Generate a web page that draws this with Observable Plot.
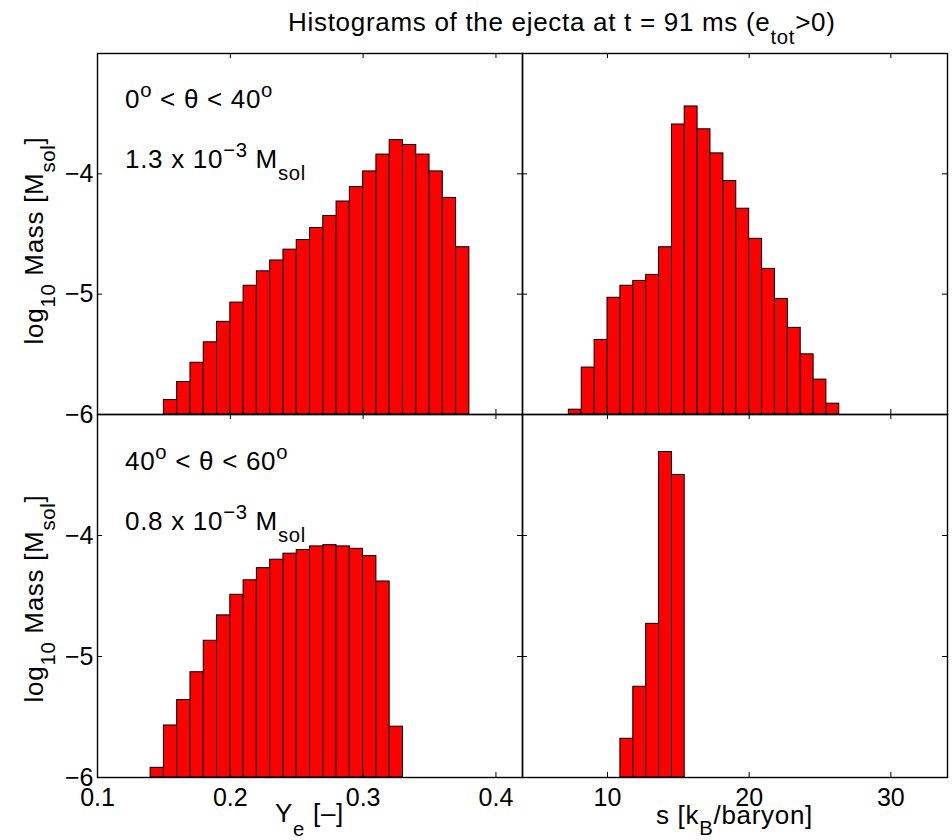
<!DOCTYPE html>
<html><head><meta charset="utf-8">
<script src="https://cdn.jsdelivr.net/npm/d3@7"></script>
<script src="https://cdn.jsdelivr.net/npm/@observablehq/plot@0.6"></script>
<style>
body{margin:0;background:#fff;}
#chart{position:relative;width:952px;height:840px;background:#fff;font-family:"Liberation Sans",Arial,Helvetica,sans-serif;}
#chart svg{position:absolute;overflow:visible;}
</style></head><body><div id="chart"></div>
<script>
// ---------- data ----------
const yeEdgesTop = [0.15,0.16,0.17,0.18,0.19,0.20,0.21,0.22,0.23,0.24,0.25,0.26,0.27,0.28,0.29,0.30,0.31,0.32,0.33,0.34,0.35,0.36,0.37,0.38];
const massYeTop = [-5.88,-5.73,-5.57,-5.40,-5.23,-5.07,-4.93,-4.81,-4.72,-4.63,-4.55,-4.45,-4.35,-4.23,-4.11,-3.98,-3.84,-3.72,-3.76,-3.84,-3.98,-4.20,-4.61];
const sEdgesTop = [7.27,8.18,9.09,10.00,10.91,11.82,12.73,13.64,14.55,15.45,16.36,17.27,18.18,19.09,20.00,20.91,21.82,22.73,23.64,24.55,25.45,26.36];
const massSTop = [-5.96,-5.61,-5.38,-5.03,-4.93,-4.89,-4.84,-4.61,-3.59,-3.44,-3.63,-3.83,-4.06,-4.29,-4.54,-4.79,-5.04,-5.28,-5.50,-5.71,-5.91];
const yeEdgesBottom = [0.14,0.15,0.16,0.17,0.18,0.19,0.20,0.21,0.22,0.23,0.24,0.25,0.26,0.27,0.28,0.29,0.30,0.31,0.32,0.33];
const massYeBottom = [-5.92,-5.57,-5.36,-5.13,-4.87,-4.66,-4.49,-4.37,-4.27,-4.20,-4.15,-4.12,-4.09,-4.08,-4.09,-4.11,-4.17,-4.38,-5.58];
const sEdgesBottom = [10.91,11.82,12.73,13.64,14.55,15.45];
const massSBottom = [-5.68,-5.25,-4.73,-3.31,-3.50];

const yeDomain = [0.1, 0.42];
const sDomain = [4, 34];
const massDomain = [-6, -3];
const massTicks = [-6, -5, -4];
const yeTicks = [0.1, 0.2, 0.3, 0.4];
const sTicks = [10, 20, 30];
const rowLabels = [["0","40"],["40","60"]];
const rowMass = ["1.3","0.8"];

// ---------- layout ----------
const FONT = 25;
const TEXTFONT = 26;
const L = 97, MID = 522, R = 947, TOP = 53, ROW = 414, BOT = 777;
const TICK = 5;
const root = d3.select("#chart");

function bins(edges, vals) {
  return vals.map((m, i) => ({x1: edges[i], x2: edges[i + 1], m}));
}
const fmtMass = d => (d < 0 ? "\u2212" + Math.abs(d) : String(d));

function panel({data, xDomain, xTicks, showX, showY, left, top, width, height, mLeft}) {
  const innerW = width - mLeft, innerH = height;
  const marks = [
    Plot.rectY(data, {x1: "x1", x2: "x2", y1: massDomain[0], y2: "m", fill: "#ff0000", stroke: "#000", strokeWidth: 1}),
    Plot.tickY(massTicks, {y: d => d, insetRight: innerW - TICK, stroke: "#000", strokeWidth: 1}),
    Plot.tickY(massTicks, {y: d => d, insetLeft: innerW - TICK, stroke: "#000", strokeWidth: 1}),
    Plot.tickX(xTicks, {x: d => d, insetBottom: innerH - TICK, stroke: "#000", strokeWidth: 1}),
    Plot.tickX(xTicks, {x: d => d, insetTop: innerH - TICK, stroke: "#000", strokeWidth: 1}),
    Plot.frame({stroke: "#000", strokeWidth: 1.4})
  ];
  if (showY) marks.push(Plot.axisY(massTicks, {anchor: "left", tickSize: 0, tickPadding: 4, tickFormat: fmtMass, fontSize: FONT, label: null}));
  if (showX) marks.push(Plot.axisX(xTicks, {anchor: "bottom", tickSize: 0, tickPadding: 11, tickFormat: d => String(d), fontSize: FONT, label: null}));
  const svg = Plot.plot({
    width, height, marginLeft: mLeft, marginRight: 0, marginTop: 0, marginBottom: 0,
    x: {domain: xDomain, label: null, axis: showX ? undefined : null},
    y: {domain: massDomain, label: null, axis: showY ? undefined : null},
    style: {background: "transparent", overflow: "visible", fontFamily: "'Liberation Sans', Arial, Helvetica, sans-serif", fontSize: FONT + "px", color: "#000"},
    marks
  });
  svg.style.left = left + "px";
  svg.style.top = top + "px";
  root.node().appendChild(svg);
}

panel({data: bins(yeEdgesTop, massYeTop), xDomain: yeDomain, xTicks: yeTicks, showX: false, showY: true, left: 0, top: TOP, width: MID, height: ROW - TOP, mLeft: L});
panel({data: bins(sEdgesTop, massSTop), xDomain: sDomain, xTicks: sTicks, showX: false, showY: false, left: MID, top: TOP, width: R - MID, height: ROW - TOP, mLeft: 0});
panel({data: bins(yeEdgesBottom, massYeBottom), xDomain: yeDomain, xTicks: yeTicks, showX: true, showY: true, left: 0, top: ROW, width: MID, height: BOT - ROW, mLeft: L});
panel({data: bins(sEdgesBottom, massSBottom), xDomain: sDomain, xTicks: sTicks, showX: true, showY: false, left: MID, top: ROW, width: R - MID, height: BOT - ROW, mLeft: 0});

// ---------- text overlay ----------
const ov = root.append("svg").attr("width", 952).attr("height", 840).style("left", "0px").style("top", "0px").style("pointer-events", "none")
  .attr("font-family", "'Liberation Sans', Arial, Helvetica, sans-serif");

function rich(x, y, parts, {size = TEXTFONT, anchor = "start", rotate = 0, sub = 0.46, sup = 0.44, spacing = 0.7} = {}) {
  const t = ov.append("text").attr("x", x).attr("y", y).attr("font-size", size).attr("text-anchor", anchor)
    .attr("fill", "#000").style("letter-spacing", spacing + "px");
  if (rotate) t.attr("transform", `rotate(${rotate},${x},${y})`);
  let shift = 0;
  for (const [s, kind] of parts) {
    const fs = kind ? size * 0.78 : size;
    const target = kind === "sub" ? size * sub : kind === "sup" ? -size * sup : 0;
    t.append("tspan").attr("dy", target - shift).attr("font-size", fs).text(s);
    shift = target;
  }
}

rich(288, 31, [["Histograms of the ejecta at t = 91 ms (e"], ["tot", "sub"], [">0)"]], {sub: 0.5});
rich(125, 108, [[rowLabels[0][0]], ["o", "sup"], [" < \u03b8 < " + rowLabels[0][1]], ["o", "sup"]]);
rich(125, 168, [[rowMass[0] + " x 10"], ["\u22123", "sup"], [" M"], ["sol", "sub"]]);
rich(125, 470, [[rowLabels[1][0]], ["o", "sup"], [" < \u03b8 < " + rowLabels[1][1]], ["o", "sup"]]);
rich(125, 530, [[rowMass[1] + " x 10"], ["\u22123", "sup"], [" M"], ["sol", "sub"]]);
rich(43, (TOP + ROW) / 2 + 7, [["log"], ["10", "sub"], [" Mass [M"], ["sol", "sub"], ["]"]], {anchor: "middle", rotate: -90});
rich(43, (ROW + BOT) / 2 + 3, [["log"], ["10", "sub"], [" Mass [M"], ["sol", "sub"], ["]"]], {anchor: "middle", rotate: -90});
rich((L + MID) / 2, 822, [["Y"], ["e", "sub"], [" [\u2013]"]], {anchor: "middle", sub: 0.54});
rich((MID + R) / 2, 824, [["s [k"], ["B", "sub"], ["/baryon]"]], {anchor: "middle", sub: 0.44});
</script></body></html>
